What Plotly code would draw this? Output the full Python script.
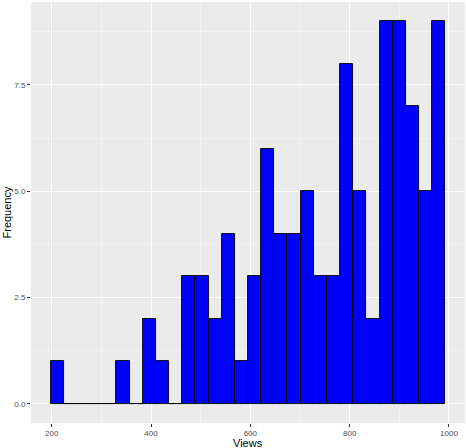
import plotly.graph_objects as go

# --------------------------------------------
# Histogram data (30 bins)
# --------------------------------------------
bin_start = 198.0
bin_width = 26.49
counts = [1, 0, 0, 0, 0, 1, 0, 2, 1, 0,
          3, 3, 2, 4, 1, 3, 6, 4, 4, 5,
          3, 3, 8, 5, 2, 9, 9, 7, 5, 9]
x_ticks = [200, 400, 600, 800, 1000]
y_ticks = [0, 2.5, 5, 7.5]
y_tick_labels = ["0.0", "2.5", "5.0", "7.5"]

centers = [bin_start + bin_width * (i + 0.5) for i in range(len(counts))]

FONT = "Liberation Sans, Arial"

fig = go.Figure()

fig.add_trace(
    go.Bar(
        x=centers,
        y=counts,
        width=bin_width,
        marker=dict(color="#0000FF", line=dict(color="#000000", width=0.9)),
        showlegend=False,
    )
)

# ggplot-ish grey theme
axis_common = dict(
    showgrid=True,
    gridcolor="#FFFFFF",
    gridwidth=1.1,
    zeroline=False,
    showline=False,
    automargin=False,
    ticks="outside",
    ticklen=3,
    tickwidth=1,
    tickcolor="#333333",
    tickfont=dict(family=FONT, size=8, color="#4D4D4D"),
)

fig.update_xaxes(
    **axis_common,
    range=[158.3, 1032.3],
    tickvals=x_ticks,
    ticklabelstandoff=-1,
    minor=dict(tickvals=[300, 500, 700, 900], ticks="", showgrid=True,
               gridcolor="#F2F2F2", gridwidth=0.6),
)

fig.update_yaxes(
    **axis_common,
    range=[-0.45, 9.45],
    tickvals=y_ticks,
    ticktext=y_tick_labels,
    minor=dict(tickvals=[1.25, 3.75, 6.25, 8.75], ticks="", showgrid=True,
               gridcolor="#F2F2F2", gridwidth=0.6),
)

# axis titles placed like ggplot's
fig.add_annotation(text="Views", xref="paper", yref="paper", x=0.5, y=0,
                   yshift=-13, yanchor="top", borderpad=0, showarrow=False,
                   font=dict(family=FONT, size=11, color="#000000"))
fig.add_annotation(text="Frequency", xref="paper", yref="paper", x=0, y=0.5,
                   xshift=-17, xanchor="right", textangle=-90, showarrow=False,
                   font=dict(family=FONT, size=11, color="#000000"))

fig.update_layout(
    width=466,
    height=448,
    margin=dict(l=31, r=1, t=2, b=25),
    plot_bgcolor="#EBEBEB",
    paper_bgcolor="#FFFFFF",
    bargap=0,
)

fig.write_html("out.html", config={"displayModeBar": False},
               post_script="document.body.style.margin='0';")
